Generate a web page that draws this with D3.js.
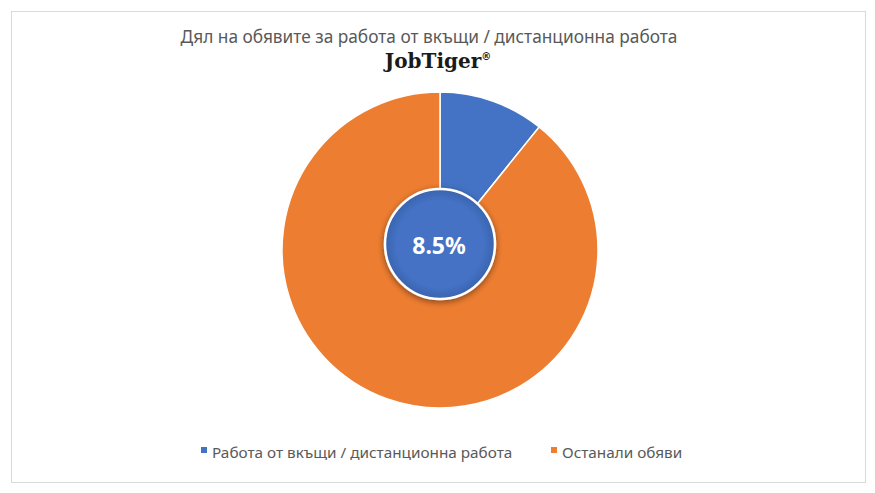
<!DOCTYPE html>
<html>

<head>
    <meta charset="utf-8">
    <title>Дял на обявите за работа от вкъщи / дистанционна работа</title>
    <script src="https://cdn.jsdelivr.net/npm/d3@7"></script>
    <style>
        body {
            margin: 0;
            background: #fff;
        }

        text {
            font-family: "Noto Sans", "Open Sans", sans-serif;
        }
    </style>
</head>

<body>
    <script>
        // Data
        const categories = ['Работа от вкъщи / дистанционна работа', 'Останали обяви'];
        const shares = [10.8, 89.2];
        const colors = ['#4472C4', '#ED7D31'];
        const centerLabel = '8.5%';
        const title = 'Дял на обявите за работа от вкъщи / дистанционна работа';

        const width = 875;
        const height = 493;
        const cx = 440;
        const cy = 250;
        const radius = 158;

        const svg = d3.select('body')
            .append('svg')
            .attr('width', width)
            .attr('height', height);

        const defs = svg.append('defs');

        defs.append('filter')
            .attr('id', 'shadow')
            .attr('x', '-30%').attr('y', '-30%')
            .attr('width', '160%').attr('height', '160%')
            .append('feDropShadow')
            .attr('dx', 0)
            .attr('dy', 2)
            .attr('stdDeviation', 3)
            .attr('flood-color', '#000')
            .attr('flood-opacity', 0.45);

        const grad = defs.append('radialGradient')
            .attr('id', 'innerGrad');
        grad.append('stop').attr('offset', '80%').attr('stop-color', '#4472C4');
        grad.append('stop').attr('offset', '100%').attr('stop-color', '#3A63AD');

        // Chart border
        svg.append('rect')
            .attr('x', 11.5)
            .attr('y', 11.5)
            .attr('width', 854)
            .attr('height', 471)
            .attr('fill', '#fff')
            .attr('stroke', '#d9d9d9')
            .attr('stroke-width', 1);

        // Title
        svg.append('text')
            .attr('x', 429)
            .attr('y', 43)
            .attr('text-anchor', 'middle')
            .attr('fill', '#595959')
            .style('font-size', '17.3px')
            .text(title);

        // Logo text
        const logo = svg.append('text')
            .attr('x', 438)
            .attr('y', 68)
            .attr('text-anchor', 'middle')
            .attr('fill', '#1a1a1a')
            .style('font-family', '"DejaVu Serif", serif')
            .style('font-weight', 'bold')
            .style('font-size', '20px')
            .text('JobTiger');
        logo.append('tspan')
            .attr('dy', -8)
            .style('font-size', '10px')
            .style('font-family', '"DejaVu Sans", sans-serif')
            .text('®');

        // Pie
        const pie = d3.pie()
            .sort(null)
            .value(d => d.value);

        const arc = d3.arc()
            .innerRadius(0)
            .outerRadius(radius);

        const data = categories.map((c, i) => ({ name: c, value: shares[i], color: colors[i] }));

        const g = svg.append('g')
            .attr('transform', `translate(${cx}, ${cy})`);

        g.selectAll('.slice')
            .data(pie(data))
            .enter()
            .append('path')
            .attr('class', 'slice')
            .attr('d', arc)
            .attr('fill', d => d.data.color)
            .attr('stroke', '#fff')
            .attr('stroke-width', 1.5);

        // Center badge
        g.append('circle')
            .attr('cx', 0)
            .attr('cy', -6)
            .attr('r', 55)
            .attr('fill', 'url(#innerGrad)')
            .attr('stroke', '#fff')
            .attr('stroke-width', 2.5)
            .attr('filter', 'url(#shadow)');

        g.append('text')
            .attr('x', -1)
            .attr('y', 4)
            .attr('text-anchor', 'middle')
            .attr('fill', '#fff')
            .style('font-weight', 'bold')
            .style('font-size', '23px')
            .text(centerLabel);

        // Legend
        const legendX = [201, 551];
        const legend = svg.selectAll('.legend')
            .data(data)
            .enter()
            .append('g')
            .attr('class', 'legend')
            .attr('transform', (d, i) => `translate(${legendX[i]}, 458)`);

        legend.append('rect')
            .attr('x', 0)
            .attr('y', -11)
            .attr('width', 6)
            .attr('height', 6)
            .attr('fill', d => d.color);

        legend.append('text')
            .attr('x', 11)
            .attr('y', 0)
            .attr('fill', '#595959')
            .style('font-size', '15.3px')
            .text(d => d.name);
    </script>
</body>

</html>
